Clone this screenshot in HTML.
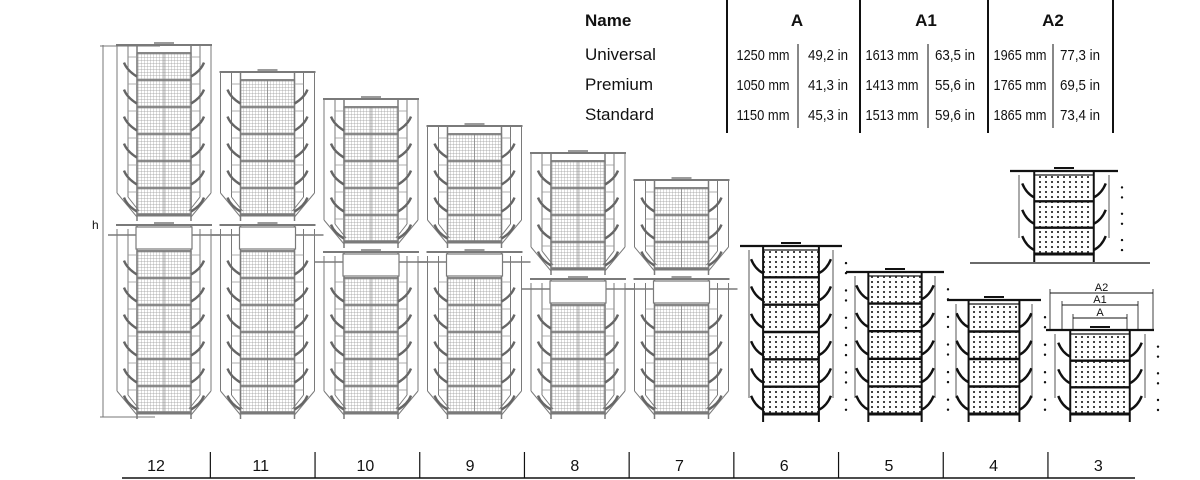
<!DOCTYPE html>
<html><head><meta charset="utf-8"><style>
html,body{margin:0;padding:0;background:#fff;width:1200px;height:480px;overflow:hidden}
svg{display:block}
text{font-family:"Liberation Sans",sans-serif}
</style></head><body>
<svg id="c" width="1200" height="480" viewBox="0 0 1200 480">
<defs>
<pattern id="grid" width="3" height="3" patternUnits="userSpaceOnUse"><path d="M0 0H3M0 0V3" stroke="#999" stroke-width="0.7"/></pattern>
<pattern id="dots" width="6" height="5" patternUnits="userSpaceOnUse"><rect x="1" y="1" width="2" height="2" fill="#444"/></pattern>
</defs>
<g id="table">
<text x="585" y="26" font-size="17" font-weight="bold" fill="#111">Name</text>
<text x="797" y="26" font-size="17" font-weight="bold" text-anchor="middle" fill="#111">A</text>
<text x="926" y="26" font-size="17" font-weight="bold" text-anchor="middle" fill="#111">A1</text>
<text x="1053" y="26" font-size="17" font-weight="bold" text-anchor="middle" fill="#111">A2</text>
</g>
<g id="draw"></g>
</svg>
<script>
const NS='http://www.w3.org/2000/svg';
const tierLabels=['12','11','10','9','8','7','6','5','4','3'];
const upperCages=[6,5,5,4,4,3,0,0,0,0];
const lowerCages=[6,6,5,5,4,4,6,5,4,3];
const rowNames=['Universal','Premium','Standard'];
const colA=['1250 mm|49,2 in','1050 mm|41,3 in','1150 mm|45,3 in'];
const colA1=['1613 mm|63,5 in','1413 mm|55,6 in','1513 mm|59,6 in'];
const colA2=['1965 mm|77,3 in','1765 mm|69,5 in','1865 mm|73,4 in'];
const svg=document.getElementById('c'), G=document.getElementById('draw'), T=document.getElementById('table');
function el(tag,attrs,parent){const e=document.createElementNS(NS,tag);for(const k in attrs)e.setAttribute(k,attrs[k]);(parent||G).appendChild(e);return e;}
function line(x1,y1,x2,y2,s,w,p){return el('line',{x1,y1,x2,y2,stroke:s,'stroke-width':w},p);}
// table
[727,860,988,1113].forEach(x=>line(x,0,x,133,'#111',2,T));
[798,928,1053].forEach(x=>line(x,44,x,128,'#111',1,T));
rowNames.forEach((n,i)=>{
  const y=60+i*30;
  const t=el('text',{x:585,y:y,'font-size':17,fill:'#111'},T);t.textContent=n;
  
  
  [[colA,763,828],[colA1,892,955],[colA2,1020,1080]].forEach(([col,x1,x2])=>{
    const p=col[i].split('|');
    const a=el('text',{x:x1,y:y,'font-size':15,'text-anchor':'middle',fill:'#111',textLength:53,lengthAdjust:'spacingAndGlyphs'},T);a.textContent=p[0];
    
    
    const b=el('text',{x:x2,y:y,'font-size':15,'text-anchor':'middle',fill:'#111',textLength:40,lengthAdjust:'spacingAndGlyphs'},T);b.textContent=p[1];
    
    
  });
});
// axis
const axL=122, axR=1135, colW=104.7, axY=478, cageH=27, floorY=413;
function colCenter(i){return 156+i*colW;}
line(axL,axY,axR,axY,'#111',1.5);
tierLabels.forEach((l,i)=>{
  const t=el('text',{x:colCenter(i),y:471,'font-size':16,'text-anchor':'middle',fill:'#111'});t.textContent=l;
  
  
  if(i>0){const d=line(colCenter(i)-colW/2+2,452,colCenter(i)-colW/2+2,axY,'#111',1.2);
    
    }
});
// gray section
function graySection(g,cx,top,n,gap){
  const s='#7a7a7a', w=100, x0=cx-w/2, x1=cx+w/2, cw=54, c0=cx-cw/2, c1=cx+cw/2;
  const cTop=top+8+gap, bot=cTop+n*cageH;
  line(x0+2,top,x1-2,top,s,2,g); line(cx-10,top-2,cx+10,top-2,s,1.5,g);
  el('rect',{x:c0,y:cTop,width:cw,height:n*cageH,fill:'url(#grid)',stroke:s,'stroke-width':1.2},g);
  line(c0,top,c0,bot+6,s,1.5,g); line(c1,top,c1,bot+6,s,1.5,g); line(cx,cTop,cx,bot,'#888',0.8,g);
  for(let k=0;k<=n;k++){line(c0,cTop+k*cageH,c1,cTop+k*cageH,s,k==n?3:1.8,g);}
  [[x0+3,x0+14,c0,-1],[x1-3,x1-14,c1,1]].forEach(([xo,xi,xc,d])=>{
    line(xo,top+(gap?4:0),xo,bot-22,s,1,g); line(xi,top+(gap?4:0),xi,bot-18,s,1,g);
    line(xo,bot-22,xc,bot+2,s,1,g); line(xi,bot-18,xc-d*2,bot-4,s,1,g);
    for(let k=0;k<n;k++){const yy=cTop+k*cageH+cageH*0.65;
      el('path',{d:`M${xc} ${yy+6} Q${xc+d*10} ${yy} ${xc+d*13} ${yy-8}`,fill:'none',stroke:'#666','stroke-width':2.4},g);
      line(xi,cTop+k*cageH+4,xc,cTop+k*cageH+4,'#999',0.8,g);}
  });
  return bot;
}
function grayTower(i){
  const cx=colCenter(i)+8-i*1.2, g=el('g',{});
  
  
  const ln=lowerCages[i], un=upperCages[i];
  const lowTop=floorY-ln*cageH-26;
  graySection(g,cx,lowTop,ln,18);
  el('rect',{x:cx-28,y:lowTop+2,width:56,height:22,fill:'#fff',stroke:'#7a7a7a','stroke-width':1.2},g);
  line(cx-56,lowTop+10,cx-28,lowTop+10,'#7a7a7a',1.5,g);line(cx+28,lowTop+10,cx+56,lowTop+10,'#7a7a7a',1.5,g);
  const upTop=lowTop-8-un*cageH-10;
  graySection(g,cx,upTop,un,0);
}
function blackTower(i,cx,top,n,w,floor){
  const g=el('g',{});
  
  
  const s='#111', cw=w*0.62, c0=cx-cw/2, c1=cx+cw/2, h=(floor-top-8)/n;
  line(cx-w/2-6,top,cx+w/2+6,top,s,2.2,g); line(cx-10,top-3,cx+10,top-3,s,2,g);
  el('rect',{x:c0,y:top+4,width:cw,height:n*h,fill:'url(#dots)',stroke:s,'stroke-width':1.2},g);
  for(let k=1;k<=n;k++)line(c0,top+4+k*h,c1,top+4+k*h,s,k==n?3:2.4,g);
  line(c0,top,c0,floor+4,s,2,g); line(c1,top,c1,floor+4,s,2,g);
  line(cx-w/2+3,top+4,cx-w/2+3,floor-20,'#555',1,g); line(cx+w/2-3,top+4,cx+w/2-3,floor-20,'#555',1,g);
  for(let k=0;k<n;k++){const yy=top+4+k*h+h*0.7;
    el('path',{d:`M${c0} ${yy+4} q-8 -4 -12 -14`,fill:'none',stroke:s,'stroke-width':2.4},g);
    el('path',{d:`M${c1} ${yy+4} q8 -4 12 -14`,fill:'none',stroke:s,'stroke-width':2.4},g);
    el('circle',{cx:cx+w/2+10,cy:yy-6,r:1.2,fill:s},g);el('circle',{cx:cx+w/2+10,cy:yy+4,r:1.2,fill:s},g);}
  return g;
}
for(let i=0;i<6;i++)grayTower(i);
blackTower(6,791,246,lowerCages[6],90,418);
blackTower(7,895,272,lowerCages[7],86,418);
blackTower(8,994,300,lowerCages[8],82,418);
blackTower(9,1100,330,lowerCages[9],96,418);
const g3t=blackTower(9,1064,171,3,96,258);

line(970,263,1150,263,'#111',1.2);
[[1050,1153,293,'A2'],[1062,1138,305,'A1'],[1073,1127,318,'A']].forEach(([a,b,y,l])=>{
  line(a,y,b,y,'#111',1);line(a,y-4,a,330,'#111',0.8);line(b,y-4,b,330,'#111',0.8);
  const t=el('text',{x:(a+b)/2,y:y-2,'font-size':11,'text-anchor':'middle',fill:'#111'});t.textContent=l;
  
  
});
line(103,45,103,417,'#777',1);line(100,46,160,46,'#777',1);line(100,417,155,417,'#777',1);
const h=el('text',{x:92,y:229,'font-size':12,fill:'#111'});h.textContent='h';


</script>
</body></html>
